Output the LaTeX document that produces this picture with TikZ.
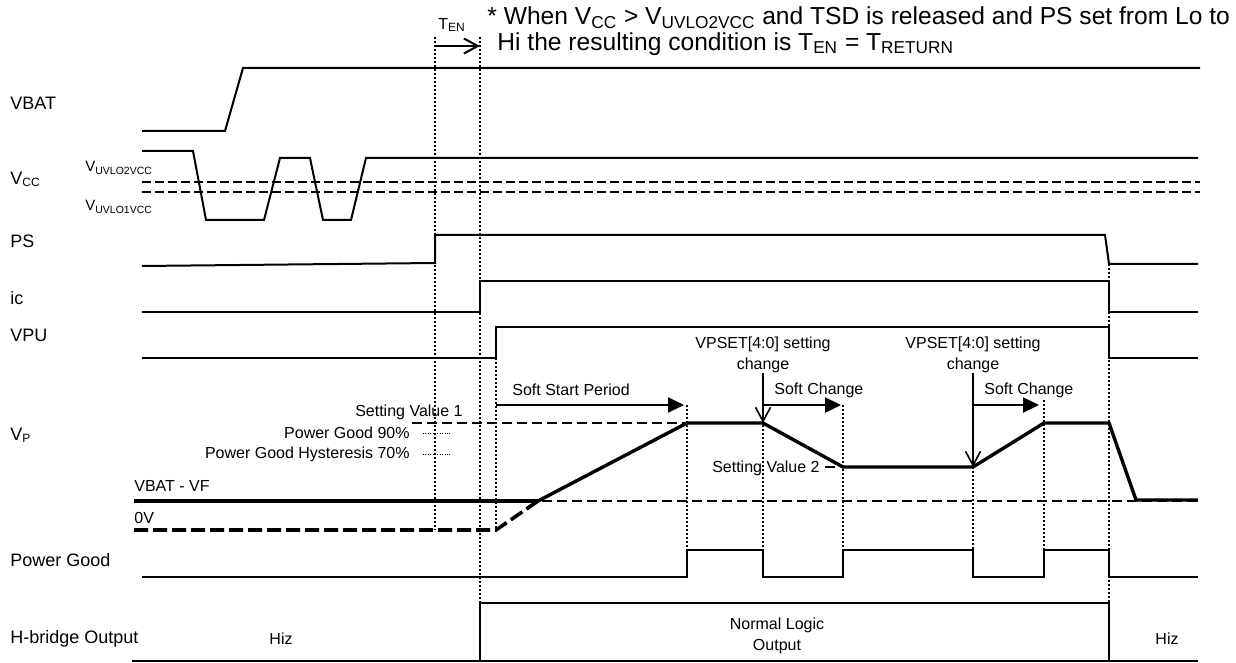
\documentclass[tikz,border=0pt]{standalone}
\usepackage{fontspec}
\setmainfont{Liberation Sans}
\usetikzlibrary{arrows.meta}

\begin{document}
\begin{tikzpicture}[x=0.5pt, y=-0.5pt,
    signame/.style={anchor=west, inner sep=0pt, font=\fontsize{9}{11}\selectfont},
    tag/.style={inner sep=0pt, font=\fontsize{8}{10.5}\selectfont},
    subtag/.style={inner sep=0pt, font=\fontsize{7.5}{9}\selectfont},
    notetext/.style={anchor=west, inner sep=0pt, font=\fontsize{12.3}{14}\selectfont},
    wave/.style={line width=1pt},
    pgwave/.style={line width=0.85pt},
    vpline/.style={line width=1.7pt},
    thr/.style={line width=1.25pt, dash pattern=on 4.5pt off 2pt},
    lvl/.style={line width=1.2pt, dash pattern=on 5pt off 2.5pt},
    zerolvl/.style={line width=1.8pt, dash pattern=on 7pt off 2.5pt},
    guide/.style={line width=1pt, dash pattern=on 1pt off 1pt},
    fine/.style={line width=0.5pt, dash pattern=on 0.5pt off 0.7pt},
    period/.style={line width=1.1pt, -{Triangle[length=8pt, width=7.5pt]}},
    cue/.style={line width=0.8pt, -{Straight Barb[length=7pt, width=7.5pt]}},
  ]
  \useasboundingbox (0,0) rectangle (1236,663);
%
  \node[signame] (nvbat) at (10,103) {VBAT};
  \node[signame] (nvcc) at (10,179) {V\textsubscript{CC}};
  \node[signame] (nps) at (10,241) {PS};
  \node[signame] (nic) at (10,298) {ic};
  \node[signame] (nvpu) at (10,335) {VPU};
  \node[signame] (nvp) at (10,435) {V\textsubscript{P}};
  \node[signame] (npg) at (10,560) {Power Good};
  \node[signame] (nhb) at (10,639) {H-bridge Output};
%
  \node[notetext] (note1) at (487,18) {* When V\textsubscript{CC} > V\textsubscript{UVLO2VCC} and TSD is released and PS set from Lo to};
  \node[notetext] (note2) at (497,44) {Hi the resulting condition is T\textsubscript{EN} = T\textsubscript{RETURN}};
%
  % key instants
  \coordinate (tena) at (435,46);
  \coordinate (tenb) at (480,46);
  \coordinate (ssa) at (496,405);
  \coordinate (ssb) at (684,405);
  \coordinate (kneea) at (763,423);
  \coordinate (sca) at (763,405);
  \coordinate (scb) at (841,405);
  \coordinate (kneeb) at (973,467);
  \coordinate (scc) at (973,405);
  \coordinate (scd) at (1039,405);
%
  % guides
  \draw[guide] (435,37) -- (435,530);
  \draw[guide] (480,37) -- (480,603);
  \draw[guide] (496,358) -- (496,530);
  \draw[guide] (687,405) -- (687,550);
  \draw[guide] (763,405) -- (763,550);
  \draw[guide] (843,405) -- (843,550);
  \draw[guide] (973,467) -- (973,550);
  \draw[guide] (1044,400) -- (1044,550);
  \draw[guide] (1109,264) -- (1109,603);
%
  \node[tag] (ten) at (452,25) {T\textsubscript{EN}};
  \draw[cue, line width=1pt] (tena) -- (tenb);
%
  % VBAT, VCC
  \draw[wave] (142,131) -- (225,131) -- (243,68) -- (1200,68);
  \draw[wave] (142,151) -- (193,151) -- (206,220) -- (264,220) -- (280,158) -- (310,158)
    -- (323,220) -- (351,220) -- (366,158) -- (1198,158);
  \draw[thr] (142,182) -- (1200,182);
  \draw[thr] (142,192) -- (1200,192);
  \node[subtag, anchor=west] (uvlo2) at (85,168) {V\textsubscript{UVLO2VCC}};
  \node[subtag, anchor=west] (uvlo1) at (85,207) {V\textsubscript{UVLO1VCC}};
%
  % PS, ic, VPU
  \draw[wave] (142,266) -- (435,263) -- (435,235) -- (1105,235) -- (1109,264) -- (1198,264);
  \draw[wave] (142,312) -- (480,312) -- (480,281) -- (1109,281) -- (1109,312) -- (1198,312);
  \draw[wave] (142,358) -- (496,358) -- (496,327) -- (1109,327) -- (1109,358) -- (1198,358);
%
  % VP
  \node[tag, anchor=east] (sv1) at (463,412) {Setting Value 1};
  \draw[lvl] (412,423) -- (687,423);
  \node[tag, anchor=east] (pg90) at (410,433) {Power Good 90\%};
  \draw[fine] (423,433) -- (450,433);
  \node[tag, anchor=east] (pg70) at (410,454) {Power Good Hysteresis 70\%};
  \draw[fine] (423,454) -- (450,454);
  \node[tag, anchor=west] (vbvf) at (134,486) {VBAT - VF};
  \draw[lvl] (452,501) -- (1200,501);
  \draw[vpline] (134,501) -- (538,501);
  \node[tag, anchor=west] (zero) at (134,518) {0V};
  \draw[zerolvl] (134,530) -- (496,530) -- (538,501);
  \draw[vpline] (538,501) -- (687,423) -- (kneea) -- (843,467) -- (kneeb) -- (1044,423)
    -- (1109,423) -- (1136,500) -- (1198,500);
  \node[tag, anchor=east] (sv2) at (820,468) {Setting Value 2};
  \draw[lvl] (825,467) -- (840,467);
%
  \node[tag, anchor=west] (ssp) at (512,390) {Soft Start Period};
  \draw[period] (ssa) -- (ssb);
  \node[tag, align=center] (vps1) at (763,355) {VPSET[4:0] setting\\change};
  \draw[cue] (vps1.south) -- (kneea);
  \node[tag, anchor=west] (sc1) at (774,390) {Soft Change};
  \draw[period] (sca) -- (scb);
  \node[tag, align=center] (vps2) at (973,355) {VPSET[4:0] setting\\change};
  \draw[cue] (vps2.south) -- (kneeb);
  \node[tag, anchor=west] (sc2) at (984,390) {Soft Change};
  \draw[period] (scc) -- (scd);
%
  % Power Good
  \draw[pgwave] (142,577) -- (687,577) -- (687,550) -- (763,550) -- (763,577) -- (843,577)
    -- (843,550) -- (973,550) -- (973,577) -- (1044,577) -- (1044,550) -- (1109,550)
    -- (1109,577) -- (1198,577);
%
  % H-bridge
  \draw[line width=0.75pt] (132,661) -- (1198,661);
  \draw[line width=0.75pt] (480,661) -- (480,603) -- (1109,603) -- (1109,661);
  \node[tag] (hiz1) at (281,639) {Hiz};
  \node[tag, align=center] (nlo) at (777,636) {Normal Logic\\Output};
  \node[tag] (hiz2) at (1167,639) {Hiz};
\end{tikzpicture}
\end{document}
